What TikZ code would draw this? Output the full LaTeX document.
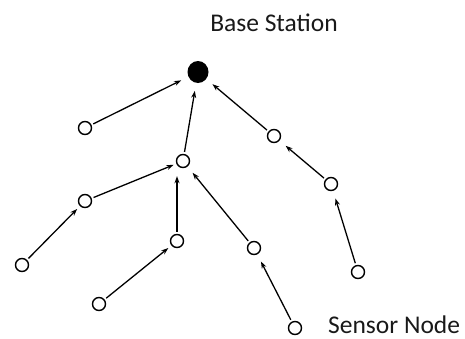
\documentclass[tikz,border=0pt]{standalone}
\usepackage{fontspec}
\setmainfont{Carlito}
\usetikzlibrary{arrows.meta,shapes.geometric}
\begin{document}
\begin{tikzpicture}[x=1pt,y=-1pt,
  sensor/.style={circle,draw=black,line width=1.4pt,fill=white,minimum size=13pt,inner sep=0pt},
  base/.style={ellipse,fill=black,minimum width=21pt,minimum height=22pt,inner sep=0pt},
  link/.style={-{Stealth[length=7pt,width=5pt]},line width=1.3pt,shorten <=2pt,shorten >=8pt},
  label/.style={font=\fontsize{25.5}{30}\selectfont,text=black!90,inner sep=0pt}]
\useasboundingbox (0,0) rectangle (465,338);
\node[base] (bs) at (198,72) {};
\node[sensor] (a) at (85,128) {};
\node[sensor] (b) at (183,161) {};
\node[sensor] (c) at (274,136) {};
\node[sensor] (d) at (331,184) {};
\node[sensor] (e) at (358,272) {};
\node[sensor] (f) at (85,201) {};
\node[sensor] (g) at (22,265) {};
\node[sensor] (h) at (177,241) {};
\node[sensor] (i) at (254,248) {};
\node[sensor] (j) at (99,304) {};
\node[sensor] (k) at (295,328) {};
\node[label,anchor=base] (bt) at (274,31) {Base Station};
\node[label,anchor=base west] (st) at (328,333) {Sensor Node};
\draw[link] (a) -- (bs);
\draw[link] (b) -- (bs);
\draw[link] (c) -- (bs);
\draw[link] (d) -- (c);
\draw[link] (e) -- (d);
\draw[link,shorten >=3pt] (f) -- (b);
\draw[link,shorten >=4pt] (g) -- (f);
\draw[link] (h) -- (h |- b.south);
\draw[link] (i) -- (b);
\draw[link,shorten >=4pt] (j) -- (h);
\draw[link] (k) -- (i);
\end{tikzpicture}
\end{document}
